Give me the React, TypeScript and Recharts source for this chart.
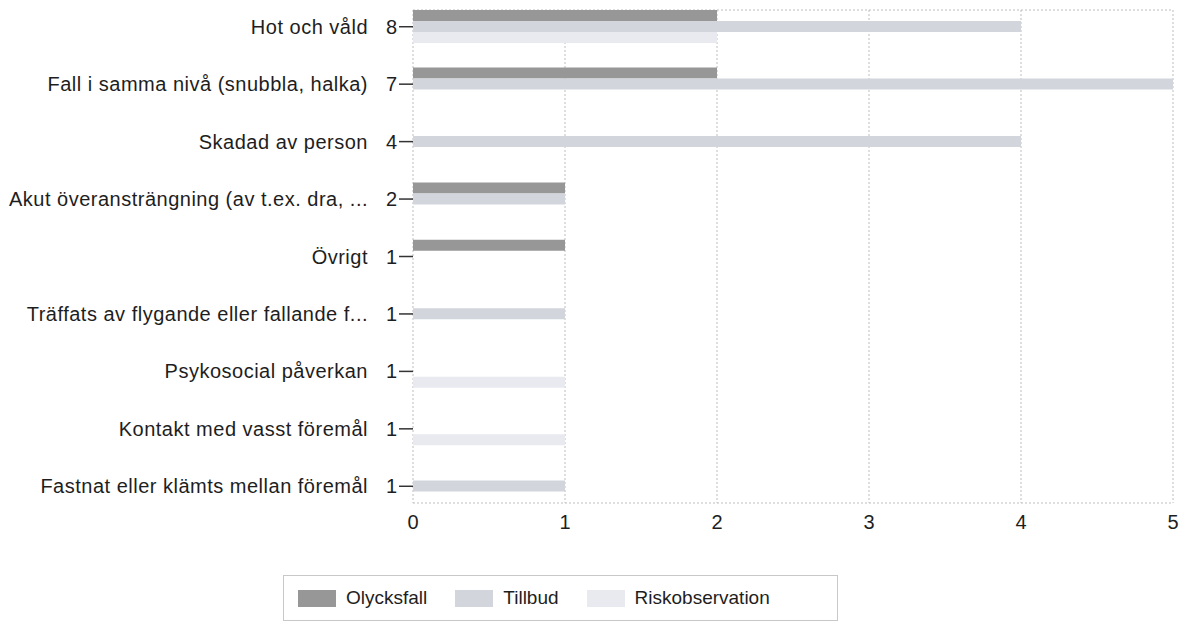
import { BarChart, Bar, XAxis, YAxis, CartesianGrid, Legend } from 'recharts';

const categories = [
  'Hot och våld',
  'Fall i samma nivå (snubbla, halka)',
  'Skadad av person',
  'Akut överansträngning (av t.ex. dra, ...',
  'Övrigt',
  'Träffats av flygande eller fallande f...',
  'Psykosocial påverkan',
  'Kontakt med vasst föremål',
  'Fastnat eller klämts mellan föremål',
];
const counts = [8, 7, 4, 2, 1, 1, 1, 1, 1];
const olycksfall = [2, 2, 0, 1, 1, 0, 0, 0, 0];
const tillbud = [4, 5, 4, 1, 0, 1, 0, 0, 1];
const riskobservation = [2, 0, 0, 0, 0, 0, 1, 1, 0];
const seriesNames = ['Olycksfall', 'Tillbud', 'Riskobservation'];
const xTicks = [0, 1, 2, 3, 4, 5];

const FONT = '"Liberation Sans", Arial, sans-serif';
const TEXT = '#1e1e1e';
const GRID = '#bdbdbd';
const COLORS: Record<string, string> = {
  Olycksfall: '#979797',
  Tillbud: '#d3d5dd',
  Riskobservation: '#e9eaf0',
};

const data = categories.map((name, i) => ({
  name,
  count: counts[i],
  olycksfall: olycksfall[i],
  tillbud: tillbud[i],
  riskobservation: riskobservation[i],
}));

function CategoryTick({ x, y, payload }: any) {
  const i = categories.indexOf(payload.value);
  return (
    <g>
      <text x={x - 29} y={y} dy="0.35em" textAnchor="end" fill={TEXT}
        fontFamily={FONT} fontSize={20} letterSpacing={0.5}>
        {payload.value}
      </text>
      <text x={x} y={y} dy="0.35em" textAnchor="end" fill={TEXT}
        fontFamily={FONT} fontSize={20}>
        {counts[i]}
      </text>
    </g>
  );
}

// legend in series order, not the alphabetical payload order
function LegendBox() {
  return (
    <div
      style={{
        display: 'flex',
        alignItems: 'center',
        width: 555,
        height: 46,
        boxSizing: 'border-box',
        border: '1px solid #c8c8c8',
        paddingLeft: 14,
        fontFamily: FONT,
        fontSize: 19,
        color: TEXT,
      }}
    >
      {seriesNames.map((name, i) => (
        <div key={name} style={{ display: 'flex', alignItems: 'center', marginLeft: i ? 28 : 0 }}>
          <span
            style={{
              display: 'inline-block',
              width: 38,
              height: 17,
              marginRight: 10,
              background: COLORS[name],
            }}
          />
          <span>{name}</span>
        </div>
      ))}
    </div>
  );
}

export default function App() {
  return (
    <div style={{ position: 'absolute', left: 0, top: 0 }}>
      <BarChart
        width={1187}
        height={621}
        data={data}
        layout="vertical"
        margin={{ top: 10, right: 14, bottom: 32, left: 0 }}
        barCategoryGap="21%"
        barGap={0}
      >
        <CartesianGrid
          stroke={GRID}
          strokeDasharray="2 2"
          horizontalCoordinatesGenerator={({ offset }: any) => [offset.top, offset.top + offset.height]}
        />
        <XAxis
          type="number"
          domain={[0, 5]}
          ticks={xTicks}
          height={40}
          axisLine={false}
          tickLine={false}
          tickSize={6}
          tickMargin={6}
          tick={{ fill: TEXT, fontSize: 20, fontFamily: FONT }}
          interval={0}
        />
        <YAxis
          type="category"
          dataKey="name"
          width={413}
          axisLine={false}
          tickLine={{ stroke: '#333', strokeWidth: 1.5 }}
          tickSize={14}
          tickMargin={2}
          padding={{ top: -12, bottom: -12 }}
          interval={0}
          tick={<CategoryTick />}
        />
        <Legend
          verticalAlign="bottom"
          content={<LegendBox />}
          wrapperStyle={{ left: 283, top: 575, bottom: 'auto', width: 'auto' }}
        />
        <Bar dataKey="olycksfall" name="Olycksfall" fill={COLORS.Olycksfall} isAnimationActive={false} />
        <Bar dataKey="tillbud" name="Tillbud" fill={COLORS.Tillbud} isAnimationActive={false} />
        <Bar dataKey="riskobservation" name="Riskobservation" fill={COLORS.Riskobservation} isAnimationActive={false} />
      </BarChart>
    </div>
  );
}
